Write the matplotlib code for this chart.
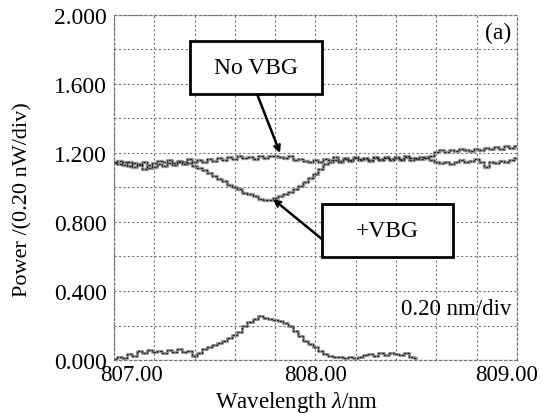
import matplotlib
matplotlib.use("Agg")
import matplotlib.pyplot as plt
import matplotlib.transforms as mtransforms
from matplotlib.patches import Rectangle
import numpy as np

plt.rcParams["font.family"] = ["Liberation Serif", "DejaVu Serif"]
plt.rcParams["mathtext.fontset"] = "custom"
plt.rcParams["mathtext.it"] = "Liberation Serif:italic"
plt.rcParams["mathtext.rm"] = "Liberation Serif"

# wavelength grid of the spectrum analyser traces (nm)
wl = np.round(np.arange(807.0, 809.0001, 0.025), 3)

# power without the grating (0.20 nW/div units read as plotted values)
p_no_vbg = [1.150, 1.135, 1.145, 1.125, 1.140, 1.130, 1.150, 1.115, 1.140, 1.155,
            1.145, 1.160, 1.140, 1.155, 1.150, 1.165, 1.150, 1.160, 1.145, 1.165,
            1.155, 1.170, 1.160, 1.175, 1.165, 1.180, 1.170, 1.175, 1.165, 1.180,
            1.170, 1.180, 1.185, 1.175, 1.170, 1.180, 1.160, 1.165, 1.155, 1.150,
            1.160, 1.150, 1.165, 1.160, 1.175, 1.155, 1.170, 1.160, 1.175, 1.165,
            1.170, 1.160, 1.175, 1.165, 1.170, 1.160, 1.175, 1.165, 1.180, 1.170,
            1.165, 1.175, 1.170, 1.160, 1.150, 1.140, 1.145, 1.135, 1.150, 1.160,
            1.145, 1.155, 1.165, 1.150, 1.120, 1.150, 1.140, 1.155, 1.145, 1.160,
            1.170]

# power with the VBG in place
p_vbg = [1.140, 1.155, 1.130, 1.145, 1.120, 1.135, 1.110, 1.130, 1.120, 1.135,
         1.125, 1.140, 1.130, 1.145, 1.135, 1.140, 1.125, 1.115, 1.100, 1.085,
         1.065, 1.050, 1.035, 1.015, 1.000, 0.990, 0.970, 0.960, 0.950, 0.935,
         0.925, 0.930, 0.940, 0.950, 0.965, 0.975, 0.990, 1.010, 1.030, 1.055,
         1.080, 1.110, 1.135, 1.150, 1.160, 1.150, 1.165, 1.155, 1.170, 1.160,
         1.165, 1.155, 1.170, 1.160, 1.175, 1.165, 1.170, 1.160, 1.175, 1.160,
         1.170, 1.165, 1.175, 1.185, 1.205, 1.215, 1.205, 1.220, 1.210, 1.225,
         1.215, 1.210, 1.225, 1.220, 1.230, 1.225, 1.235, 1.225, 1.240, 1.230,
         1.240]

# reflected part, 807.00 - 808.50 nm
wl_refl = wl[:61]
p_refl = [0.005, 0.015, 0.010, 0.035, 0.025, 0.055, 0.040, 0.060, 0.045, 0.055,
          0.040, 0.060, 0.045, 0.065, 0.045, 0.055, 0.025, 0.040, 0.065, 0.075,
          0.085, 0.100, 0.110, 0.125, 0.145, 0.165, 0.200, 0.220, 0.235, 0.255,
          0.245, 0.240, 0.230, 0.225, 0.215, 0.200, 0.170, 0.140, 0.110, 0.090,
          0.075, 0.050, 0.035, 0.025, 0.015, 0.020, 0.012, 0.018, 0.010, 0.015,
          0.030, 0.035, 0.025, 0.040, 0.030, 0.040, 0.035, 0.030, 0.040, 0.020,
          0.010]

fig = plt.figure(figsize=(5.42, 4.14), dpi=100)
ax = fig.add_axes([0.2103, 0.128, 0.7436, 0.8334])

for y in (p_no_vbg, p_vbg):
    ax.plot(wl, y, color="#9a9a9a", lw=2.4, drawstyle="steps-mid", zorder=3)
    ax.plot(wl, y, color="#2a2a2a", lw=0.9, ls=(0, (2, 1)), drawstyle="steps-mid", zorder=4)
ax.plot(wl_refl, p_refl, color="#9a9a9a", lw=2.2, drawstyle="steps-mid", zorder=3)
ax.plot(wl_refl, p_refl, color="#2a2a2a", lw=0.9, ls=(0, (2, 1)), drawstyle="steps-mid", zorder=4)

ax.set_xlim(807.0, 809.0)
ax.set_ylim(0.0, 2.0)
ax.set_xticks([807.0, 808.0, 809.0])
ax.set_xticklabels(["807.00", "808.00", "809.00"])
ax.set_yticks(np.arange(0, 2.01, 0.4))
ax.set_yticklabels(["%.3f" % v for v in np.arange(0, 2.01, 0.4)])
ax.set_xticks(np.arange(807.0, 809.01, 0.2), minor=True)
ax.set_yticks(np.arange(0, 2.01, 0.2), minor=True)
ax.tick_params(which="both", length=0, labelsize=17)
ax.tick_params(axis="y", pad=5)
ax.tick_params(axis="x", pad=3, labelsize=16.5)
ax.grid(which="both", color="#777777", lw=0.8, ls=(0, (2, 2)))
for s in ax.spines.values():
    s.set_linestyle((0, (2, 2)))
    s.set_color("#777777")
    s.set_linewidth(0.9)

# pull the end labels in towards the plot
xl = ax.get_xticklabels()
xl[0].set_transform(xl[0].get_transform() + mtransforms.ScaledTranslation(18 / 100, 0, fig.dpi_scale_trans))
xl[-1].set_transform(xl[-1].get_transform() + mtransforms.ScaledTranslation(-10 / 100, 0, fig.dpi_scale_trans))

ax.set_ylabel("Power /(0.20 nW/div)", fontsize=16)
ax.yaxis.set_label_coords(-0.203, 0.467)
ax.set_xlabel(r"Wavelength $\lambda$/nm", fontsize=16.5)
ax.xaxis.set_label_coords(0.454, -0.083)

# labelled boxes with pointers
ax.add_patch(Rectangle((807.377, 1.542), 0.655, 0.307, fill=True, fc="white",
                       ec="black", lw=2, zorder=6))
ax.text(807.705, 1.695, "No VBG", fontsize=17, ha="center", va="center", zorder=7)
ax.annotate("", xy=(807.824, 1.20), xytext=(807.71, 1.542),
            arrowprops=dict(arrowstyle="->", lw=1.8, color="black", shrinkA=0, shrinkB=0),
            zorder=5)

ax.add_patch(Rectangle((808.032, 0.597), 0.650, 0.307, fill=True, fc="white",
                       ec="black", lw=2, zorder=6))
ax.text(808.357, 0.75, "+VBG", fontsize=17, ha="center", va="center", zorder=7)
ax.annotate("", xy=(807.789, 0.933), xytext=(808.032, 0.701),
            arrowprops=dict(arrowstyle="->", lw=1.8, color="black", shrinkA=0, shrinkB=0),
            zorder=5)

ax.text(808.97, 1.90, "(a)", fontsize=17, ha="right", va="center")
ax.text(808.97, 0.296, "0.20 nm/div", fontsize=16.5, ha="right", va="center")

fig.savefig("out.png", dpi=100)
